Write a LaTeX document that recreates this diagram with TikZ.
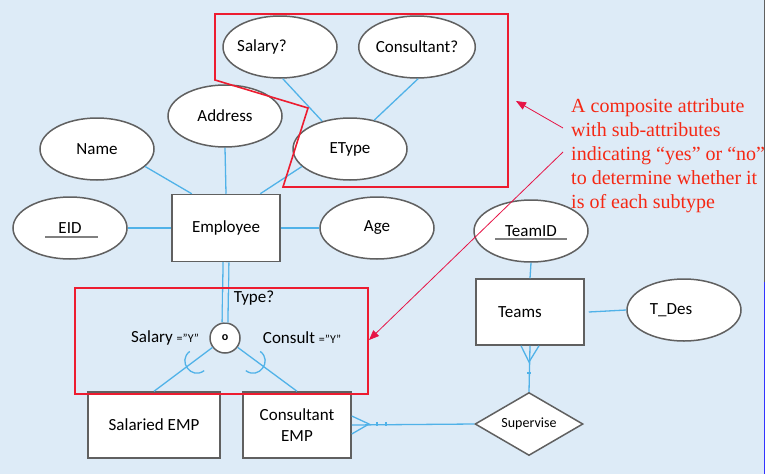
\documentclass[tikz,border=0pt]{standalone}
\usepackage{fontspec}
\setmainfont{Carlito}
\newfontfamily\notefont{Liberation Serif}
\usetikzlibrary{shapes.geometric,arrows.meta}
\definecolor{bgblue}{RGB}{221,235,247}
\definecolor{lineblue}{RGB}{80,178,232}
\definecolor{boxgray}{RGB}{96,96,96}
\definecolor{boxred}{RGB}{237,28,48}
\definecolor{arrowred}{RGB}{230,20,70}
\definecolor{notered}{RGB}{245,40,20}
\begin{document}
\begin{tikzpicture}[x=1pt,y=-1pt,font=\fontsize{17}{21}\selectfont,
  attr/.style={ellipse,draw=boxgray,line width=1.5pt,fill=white,minimum width=114pt,minimum height=62pt,inner sep=0pt},
  ent/.style={rectangle,draw=boxgray,line width=1.5pt,fill=white,minimum width=108pt,minimum height=66pt,inner sep=0pt,align=center},
  conn/.style={lineblue,line width=1.3pt},
  uline/.style={boxgray!80,line width=1.6pt},
  redbox/.style={boxred,line width=1.6pt},
  redarrow/.style={arrowred,line width=0.8pt,-{Triangle[length=10pt,width=8pt]}}]
  \useasboundingbox (0,0) rectangle (767,474);
  \fill[bgblue] (0,0) rectangle (763.5,474);
  \draw[boxgray,line width=1.2pt] (764.5,0) -- (764.5,282);
  \draw[blue!80,line width=1.2pt] (764.5,282) -- (764.5,474);
  \node[attr,label={[xshift=-18pt]center:Salary?}] (sal) at (280,47) {};
  \node[attr] (cons) at (417,47) {Consultant?};
  \node[attr] (addr) at (225,116) {Address};
  \node[attr] (name) at (97,149) {Name};
  \node[attr] (etype) at (350,149) {EType};
  \node[ent,minimum height=67pt] (emp) at (226,228) {Employee};
  \node[attr] (eid) at (70,228) {EID};
  \node[attr] (age) at (377,228) {Age};
  \node[attr] (teamid) at (531,231) {TeamID};
  \node[ent,label={[xshift=-10pt]center:Teams}] (teams) at (530,312) {};
  \node[attr,label={[xshift=-13pt]center:T\_Des}] (tdes) at (684,310) {};
  \node[diamond,draw=boxgray,line width=1.5pt,fill=white,aspect=1.7,inner sep=0pt,minimum width=108pt,minimum height=63pt,font=\fontsize{14}{16}\selectfont] (sup) at (529,424) {Supervise};
  \node[ent,minimum width=132pt] (semp) at (154,425) {Salaried EMP};
  \node[ent] (cemp) at (297,425) {Consultant\\EMP};
  \node[circle,draw=boxgray,line width=1.5pt,fill=white,minimum size=30pt,inner sep=0pt,font=\fontsize{12}{12}\selectfont\bfseries] (circ) at (225,338) {o};
  \node (typ) at (254,298) {Type?};
  \node (slbl) at (165,338) {Salary {\fontsize{12}{12}\selectfont ="Y"}};
  \node (clbl) at (302,338) {Consult {\fontsize{12}{12}\selectfont ="Y"}};
  \draw[uline] (45,237) -- (98,237);
  \draw[uline] (495,239) -- (567,239);
  \draw[conn] (sal.-85) -- (etype.135);
  \draw[conn] (cons.-88) -- (etype.50);
  \draw[conn] (addr.south) -- (emp.north);
  \draw[conn] (name.-20) -- (emp.135);
  \draw[conn] (etype.200) -- (emp.45);
  \draw[conn] (eid.east) -- (emp.west);
  \draw[conn] (emp.east) -- (age.west);
  \draw[conn] (teamid.south) -- (teams.north);
  \draw[conn] ([xshift=4pt]teams.east) -- (tdes.west);
  \draw[conn,double=bgblue,double distance=4.5pt] (emp.south) -- (circ.north);
  \draw[conn] (circ) -- (semp.north);
  \draw[conn] (circ) -- (cemp.north);
  \draw[conn] (189.8,351.4) .. controls (177,361) and (191.4,380.2) .. (204.2,370.6);
  \draw[conn] (260.2,351.4) .. controls (273,361) and (258.6,380.2) .. (245.8,370.6);
  \coordinate (tf) at (529,362);
  \coordinate (cf) at (369,424);
  \draw[conn] (teams.south) -- (sup.north);
  \draw[conn] ([xshift=-9pt]teams.south) -- (tf) -- ([xshift=9pt]teams.south);
  \draw[conn] (527,373) -- (531,373);
  \draw[conn] (cemp.east) -- (sup.west);
  \draw[conn] ([yshift=9pt]cemp.east) -- (cf) -- ([yshift=-9pt]cemp.east);
  \draw[conn] (377,422) -- (377,426);
  \draw[conn] (386,422) -- (386,426);
  \draw[redbox] (215,14) -- (508,14) -- (508,187) -- (283,187) -- (308,108) -- (215,80) -- cycle;
  \draw[redbox] (75,288) rectangle (368,394);
  \node[anchor=north west,align=left,inner sep=0pt,text=notered,font=\notefont\fontsize{20}{24}\selectfont] (note) at (571,98.5) {A composite attribute\\with sub-attributes\\indicating “yes” or “no”\\to determine whether it\\is of each subtype};
  \coordinate (n1) at (563,128);
  \coordinate (n2) at (563,152);
  \coordinate (t1) at (516,101);
  \coordinate (t2) at (369,340);
  \draw[redarrow] (n1) -- (t1);
  \draw[redarrow] (n2) -- (t2);
\end{tikzpicture}
\end{document}
